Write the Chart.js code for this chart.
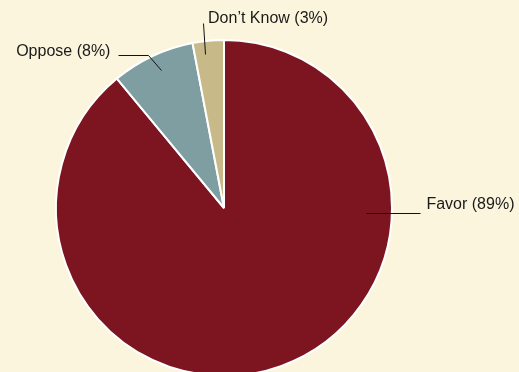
<!DOCTYPE html>
<html>
<head>
<meta charset="utf-8">
<title>Favor / Oppose</title>
<script src="https://cdn.jsdelivr.net/npm/chart.js@4.4.1/dist/chart.umd.min.js"></script>
<style>
    html, body {
        margin: 0;
        padding: 0;
        overflow: hidden;
        background: #fcf5dd;
    }
    #frame {
        width: 519px;
        height: 372px;
        overflow: hidden;
    }
    #wrap {
        position: relative;
        width: 519px;
        height: 384px;
    }
</style>
</head>
<body>
<div id="frame">
    <div id="wrap"><canvas id="pieChart"></canvas></div>
</div>
<script>
// Survey answers
const categories = ['Favor', 'Oppose', 'Don\u2019t Know'];
const shares = [89, 8, 3];
const sliceColors = ['#7d1521', '#7f9ea2', '#c8b988'];

// Callout placement, in units of the pie radius from its centre:
// line points (from the slice outwards), then the text anchor
const callouts = [
    { pts: [[0.845, 0.03], [1.167, 0.03]], text: [1.205, -0.022], align: 'left' },
    { pts: [[-0.375, -0.821], [-0.452, -0.911], [-0.631, -0.911]], text: [-0.676, -0.929], align: 'right' },
    { pts: [[-0.113, -0.917], [-0.125, -1.101]], text: [-0.095, -1.129], align: 'left' }
];

// Draws "Name (n%)" labels with thin leader lines
const calloutPlugin = {
    id: 'callouts',
    afterDatasetsDraw(chart) {
        const ctx = chart.ctx;
        const arcs = chart.getDatasetMeta(0).data;
        if (!arcs.length) return;
        const cx = arcs[0].x;
        const cy = arcs[0].y;
        const r = arcs[0].outerRadius;

        ctx.save();
        ctx.strokeStyle = '#111';
        ctx.lineWidth = 1;
        ctx.fillStyle = '#1a1a1a';
        ctx.font = '16px "Liberation Sans", Arial, sans-serif';
        ctx.textBaseline = 'middle';

        callouts.forEach((c, i) => {
            ctx.beginPath();
            c.pts.forEach(([dx, dy], k) => {
                const px = Math.round(cx + dx * r) + 0.5;
                const py = Math.round(cy + dy * r) + 0.5;
                if (k === 0) ctx.moveTo(px, py);
                else ctx.lineTo(px, py);
            });
            ctx.stroke();

            ctx.textAlign = c.align;
            ctx.fillText(`${categories[i]} (${shares[i]}%)`, cx + c.text[0] * r, cy + c.text[1] * r);
        });
        ctx.restore();
    }
};

const ctx = document.getElementById('pieChart').getContext('2d');
const chart = new Chart(ctx, {
    type: 'pie',
    data: {
        labels: categories,
        datasets: [{
            data: shares,
            backgroundColor: sliceColors,
            borderColor: '#ffffff',
            borderWidth: 2
        }]
    },
    options: {
        responsive: true,
        maintainAspectRatio: false,
        animation: false,
        layout: {
            padding: { left: 55, right: 126, top: 39, bottom: 7 }
        },
        plugins: {
            legend: { display: false },
            tooltip: { enabled: false }
        }
    },
    plugins: [calloutPlugin]
});
</script>
</body>
</html>
